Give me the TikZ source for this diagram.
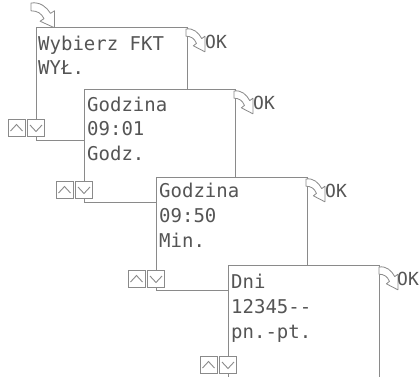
\documentclass[tikz,border=0pt]{standalone}
\usepackage{fontspec}
\setmonofont{DejaVu Sans Mono}
\definecolor{linegray}{HTML}{8A8A8A}
\definecolor{txtgray}{HTML}{555555}
\tikzset{
  curv/.pic={\draw[draw=linegray, line width=0.8pt, fill=white, line join=round]
    (0,0) .. controls (7,-1) and (12,3) .. (15,8) -- (18,6) -- (18,19) -- (7,14) -- (10,12)
    .. controls (8,8) and (5,6) .. (0,6) -- cycle;}
}
\begin{document}
\begin{tikzpicture}[x=1pt,y=-1pt,
  screen/.style={draw=linegray, line width=1.2pt, fill=white, rectangle, inner sep=0pt,
    anchor=north west, minimum width=151pt, minimum height=113pt},
  txt/.style={anchor=base west, inner sep=0pt, text=txtgray,
    font=\ttfamily\fontsize{19}{24}\selectfont},
  oktxt/.style={anchor=base west, inner sep=0pt, text=txtgray,
    font=\ttfamily\fontsize{18}{22}\selectfont},
  okarrow/.style={xscale=1.05, yscale=1.2},
  btn/.style={draw=linegray, line width=0.9pt, fill=white, rectangle, inner sep=0pt, minimum size=17pt},
  upbtn/.style={btn, path picture={\draw[linegray, line width=0.9pt]
    ([shift={(-6,3)}]path picture bounding box.center) --
    ([shift={(0,-3.5)}]path picture bounding box.center) --
    ([shift={(6,3)}]path picture bounding box.center);}},
  dnbtn/.style={btn, path picture={\draw[linegray, line width=0.9pt]
    ([shift={(-6,-3)}]path picture bounding box.center) --
    ([shift={(0,3.5)}]path picture bounding box.center) --
    ([shift={(6,-3)}]path picture bounding box.center);}}
]
\clip (0,0) rectangle (419,376);
\fill[white] (0,0) rectangle (419,376);

% screen 1
\pic[scale=1.3] at (31,3) {curv};
\node[screen] (s1) at (36,27) {};
\node[txt] (t1a) at (38,50) {Wybierz FKT};
\node[txt] (t1b) at (38,74) {WYŁ.};
\pic[okarrow] at (186,29) {curv};
\node[oktxt] (ok1) at (205,48) {OK};
\node[upbtn] (u1) at (16.5,128) {};
\node[dnbtn] (d1) at (36,128) {};

% screen 2
\node[screen] (s2) at (84,89) {};
\node[txt] (t2a) at (87,111) {Godzina};
\node[txt] (t2b) at (87,135) {09:01};
\node[txt] (t2c) at (87,160) {Godz.};
\pic[okarrow] at (234,91) {curv};
\node[oktxt] (ok2) at (253,109) {OK};
\node[upbtn] (u2) at (64.5,190) {};
\node[dnbtn] (d2) at (84,190) {};

% screen 3
\node[screen] (s3) at (156,177) {};
\node[txt] (t3a) at (159,197) {Godzina};
\node[txt] (t3b) at (159,222) {09:50};
\node[txt] (t3c) at (159,247) {Min.};
\pic[okarrow] at (306,179) {curv};
\node[oktxt] (ok3) at (325,197) {OK};
\node[upbtn] (u3) at (136.5,279) {};
\node[dnbtn] (d3) at (156,279) {};

% screen 4
\node[screen, minimum height=140pt] (s4) at (228,265) {};
\node[txt] (t4a) at (231,288) {Dni};
\node[txt] (t4b) at (231,313) {12345--};
\node[txt] (t4c) at (231,338) {pn.-pt.};
\pic[okarrow] at (379,267) {curv};
\node[oktxt] (ok4) at (397,285) {OK};
\node[upbtn] (u4) at (208.5,365) {};
\node[dnbtn] (d4) at (228,365) {};
\end{tikzpicture}
\end{document}
